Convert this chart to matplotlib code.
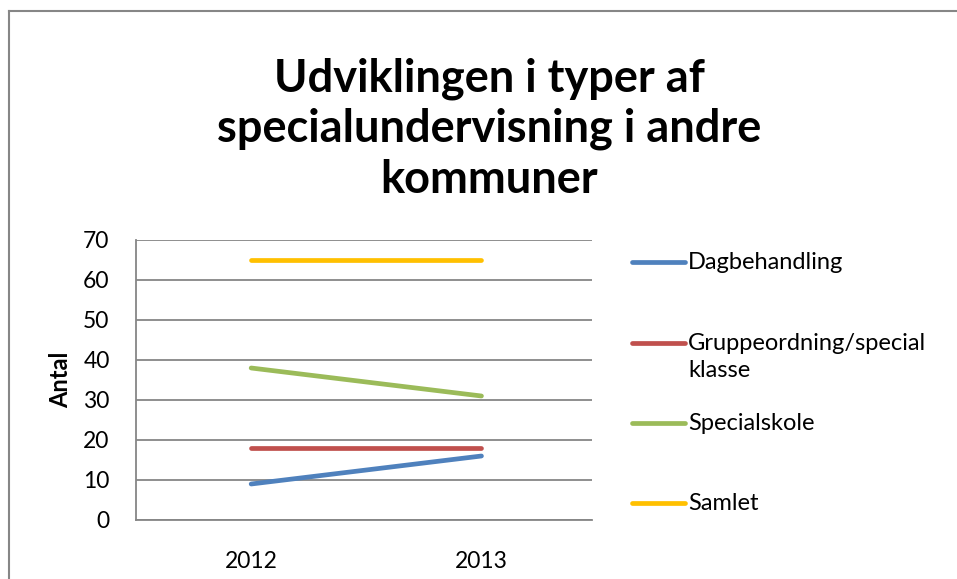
import matplotlib
matplotlib.use("Agg")
import matplotlib.pyplot as plt
from matplotlib.lines import Line2D

# data
years = ["2012", "2013"]
series_names = ["Dagbehandling", "Gruppeordning/special\nklasse", "Specialskole", "Samlet"]
dagbehandling = [9, 16]
gruppeordning = [18, 18]
specialskole = [38, 31]
samlet = [65, 65]
yticks = [0, 10, 20, 30, 40, 50, 60, 70]

colors = ["#4F81BD", "#C0504D", "#9BBB59", "#FFC000"]
values = [dagbehandling, gruppeordning, specialskole, samlet]

plt.rcParams['font.family'] = ['Lato', 'DejaVu Sans']

W, H = 957, 579
fig = plt.figure(figsize=(W / 100, H / 100), dpi=100, facecolor='white')
ax = fig.add_axes([136 / W, 1 - 520 / H, (592 - 136) / W, (520 - 240) / H])

x = list(range(len(years)))
for vals, c in zip(values, colors):
    ax.plot(x, vals, color=c, linewidth=3.4, solid_capstyle='round', zorder=3)

ax.set_xlim(-0.5, 1.48)
ax.set_ylim(0, 70)
ax.set_yticks(yticks)
ax.set_xticks(x)
ax.set_xticklabels(years)
ax.yaxis.grid(True, color='#868686', linewidth=1.3)
ax.set_axisbelow(True)
for s in ['top', 'right']:
    ax.spines[s].set_visible(False)
for s in ['left', 'bottom']:
    ax.spines[s].set_color('#868686')
    ax.spines[s].set_linewidth(1.3)
ax.tick_params(length=0, labelsize=16.5, colors='black')
ax.tick_params(axis='y', pad=19)
ax.tick_params(axis='x', pad=22)
ax.set_ylabel("Antal", fontsize=17, fontweight='bold', labelpad=8)

fig.text(489 / W, 1 - 129 / H, "Udviklingen i typer af\nspecialundervisning i andre\nkommuner",
         ha='center', va='center', fontsize=32.5, fontweight='bold', linespacing=1.25)

# legend drawn by hand to keep the Excel layout
leg_y = [262, 343, 423, 503]
for name, c, yy in zip(series_names, colors, leg_y):
    fy = 1 - yy / H
    fig.add_artist(Line2D([632 / W, 685 / W], [fy, fy], color=c, linewidth=3.4,
                          solid_capstyle='round', transform=fig.transFigure))
    fig.text(688 / W, fy + 0.0165, name, ha='left', va='top', fontsize=17, linespacing=1.3)

# outer chart border (top and left visible)
fig.add_artist(Line2D([9 / W, 1], [1 - 11 / H, 1 - 11 / H], color='#868686', linewidth=1.5,
                      transform=fig.transFigure))
fig.add_artist(Line2D([9 / W, 9 / W], [0, 1 - 11 / H], color='#868686', linewidth=1.5,
                      transform=fig.transFigure))

fig.savefig("out.png", dpi=100, facecolor='white')
